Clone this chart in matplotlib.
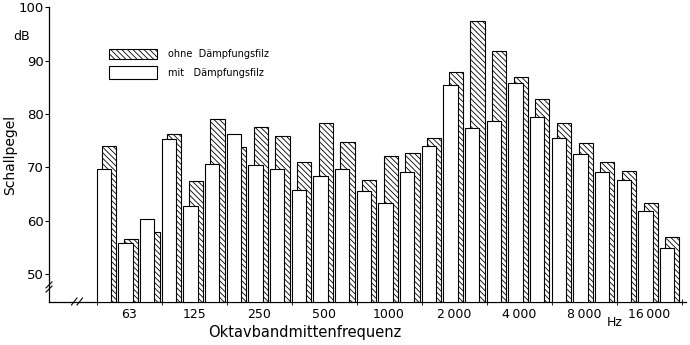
import matplotlib
matplotlib.use("Agg")
import matplotlib.pyplot as plt
from matplotlib.patches import Rectangle
import numpy as np

bands = ["50", "63", "80", "100", "125", "160", "200", "250", "315", "400", "500", "630",
         "800", "1000", "1250", "1600", "2000", "2500", "3150", "4000", "5000", "6300",
         "8000", "10000", "12500", "16000", "20000"]
ohne = [74.1, 56.6, 57.9, 76.3, 67.4, 79.0, 73.8, 77.6, 75.8, 71.1, 78.4, 74.7,
        67.6, 72.1, 72.7, 75.6, 87.9, 97.5, 91.8, 87.0, 82.8, 78.4, 74.5, 71.1,
        69.4, 63.3, 57.0]
mit = [69.8, 55.9, 60.3, 75.3, 62.8, 70.7, 76.3, 70.5, 69.8, 65.8, 68.4, 69.8,
       65.6, 63.3, 69.1, 74.1, 85.4, 77.3, 78.7, 85.8, 79.5, 75.6, 72.6, 69.2,
       67.6, 61.9, 54.9]
octave_labels = ["63", "125", "250", "500", "1000", "2\u2009000", "4\u2009000", "8\u2009000", "16\u2009000"]
y_ticks = [50, 60, 70, 80, 90, 100]
legend_labels = ["ohne  Dämpfungsfilz", "mit   Dämpfungsfilz"]

plt.rcParams['hatch.linewidth'] = 0.6
plt.rcParams['font.family'] = ['DejaVu Sans']

fig = plt.figure(figsize=(6.9, 3.45), dpi=100)
ax = fig.add_axes([0.071, 0.1246, 0.923, 0.8544])

ybase = 44.8
x = np.arange(len(bands))
w = 0.66
off = 0.245
ax.bar(x + off, np.array(ohne) - ybase, bottom=ybase, width=w, align='edge',
       facecolor='white', edgecolor='black', hatch='\\\\\\\\\\\\', linewidth=0.8, zorder=2)
ax.bar(x, np.array(mit) - ybase, bottom=ybase, width=w, align='edge',
       facecolor='white', edgecolor='black', linewidth=0.8, zorder=3)

ax.set_xlim(-2.2, 27.2)
ax.set_ylim(ybase, 100)

ax.spines['top'].set_visible(False)
ax.spines['right'].set_visible(False)
for s in ['left', 'bottom']:
    ax.spines[s].set_linewidth(0.9)

ax.set_yticks(y_ticks)
ax.set_yticklabels([str(v) for v in y_ticks], fontsize=9.5)
ax.tick_params(axis='y', direction='out', length=3, width=0.8, pad=1)

ax.set_xticks(np.arange(0, 28, 3))
ax.set_xticklabels([])
ax.tick_params(axis='x', which='major', direction='inout', length=5, width=0.6)
ax.set_xticks(np.arange(1.5, 27, 3), minor=True)
ax.set_xticklabels(octave_labels, minor=True, fontsize=9)
ax.tick_params(axis='x', which='minor', length=0, pad=4)

ax.set_ylabel("Schallpegel", fontsize=10, labelpad=2)
ax.yaxis.set_label_coords(-0.050, 0.5)

fig.text(305 / 690, 1 - 333 / 345, "Oktavbandmittenfrequenz", fontsize=10.5, ha='center', va='center')
fig.text(22 / 690, 1 - 37 / 345, "dB", fontsize=9, ha='center', va='center')
fig.text(615 / 690, 1 - 323 / 345, "Hz", fontsize=9, ha='center', va='center')

# axis break marks
for dx in (-0.004, 0.004):
    fig.add_artist(plt.Line2D([77 / 690 + dx - 0.004, 77 / 690 + dx + 0.004],
                              [1 - 305 / 345, 1 - 298 / 345], color='black', lw=0.8))
for dy in (-0.006, 0.006):
    fig.add_artist(plt.Line2D([46 / 690, 52 / 690],
                              [1 - 290 / 345 + dy, 1 - 284 / 345 + dy], color='black', lw=0.8))

# legend
lx0, lx1 = 109 / 690, 157 / 690
fig.add_artist(Rectangle((lx0, 1 - 59 / 345), lx1 - lx0, 10 / 345, transform=fig.transFigure,
                         facecolor='white', edgecolor='black', hatch='\\\\\\\\\\\\', linewidth=0.8))
fig.add_artist(Rectangle((lx0, 1 - 79 / 345), lx1 - lx0, 13 / 345, transform=fig.transFigure,
                         facecolor='white', edgecolor='black', linewidth=0.8))
fig.text(168 / 690, 1 - 54 / 345, legend_labels[0], fontsize=7, va='center', ha='left')
fig.text(168 / 690, 1 - 73 / 345, legend_labels[1], fontsize=7, va='center', ha='left')

fig.savefig("out.png", dpi=100)
